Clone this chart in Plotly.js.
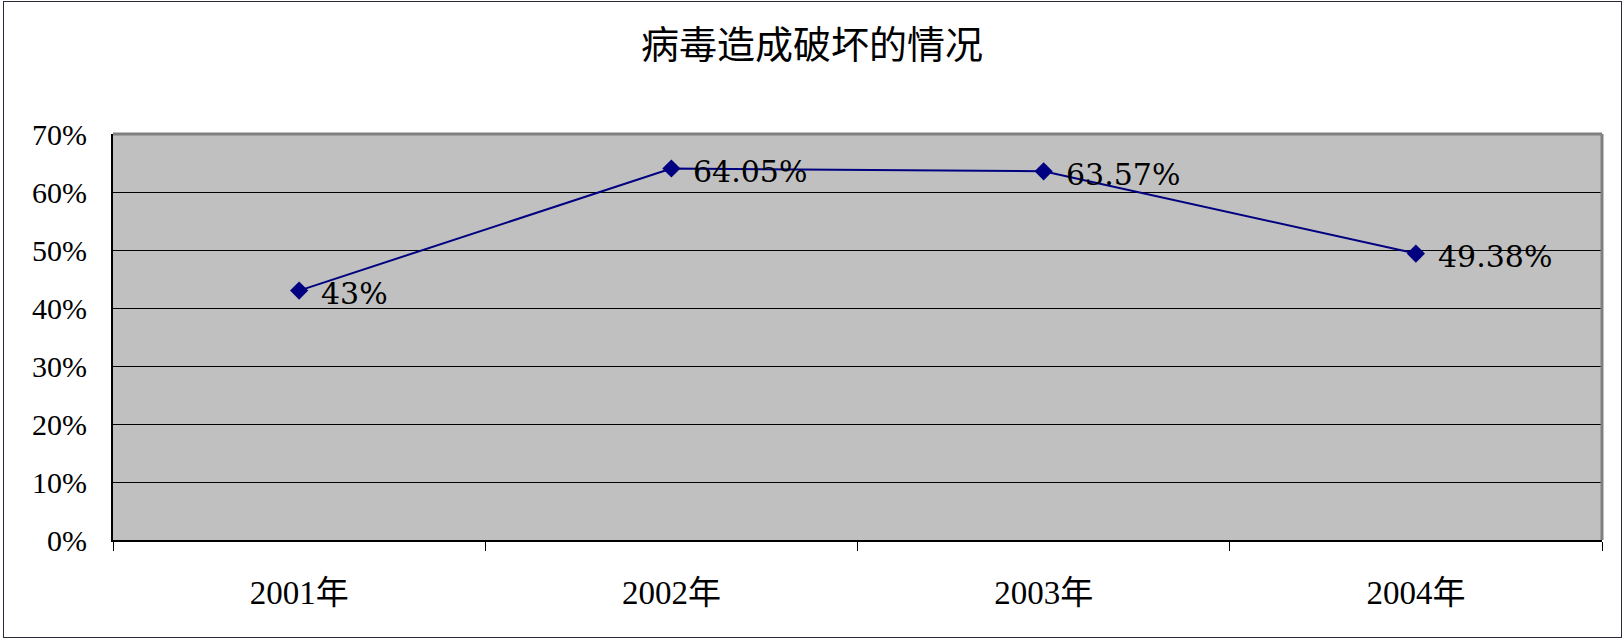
<!DOCTYPE html>
<html><head><meta charset="utf-8">
<script src="https://cdn.plot.ly/plotly-3.0.1.min.js"></script>
<style>
html,body{margin:0;padding:0;background:#fff;}
#wrap{position:relative;width:1624px;height:640px;}
#chart{position:absolute;left:0;top:0;width:1624px;height:640px;}
#frame{position:absolute;left:3px;top:1px;width:1617px;height:635px;border:1.5px solid #2a2a3a;pointer-events:none;}
</style></head>
<body><div id="wrap"><div id="chart"></div><div id="frame"></div></div>
<script>
const categories = ['2001年','2002年','2003年','2004年'];
const values = [43, 64.05, 63.57, 49.38];
const labels = ['43%','64.05%','63.57%','49.38%'];
const yTicks = [0,10,20,30,40,50,60,70];
const chartTitle = '病毒造成破坏的情况';

const serif = 'Liberation Serif, "Noto Sans CJK SC", serif';
const trace = {
  x: categories, y: values, type:'scatter', mode:'lines+markers',
  line:{color:'#000080', width:2},
  marker:{symbol:'diamond', size:14, color:'#000080'},
  cliponaxis:false, hoverinfo:'none'
};
const annotations = categories.map((c,i)=>({
  x:c, y:values[i], xref:'x', yref:'y', text:labels[i], showarrow:false,
  xanchor:'left', yanchor:'middle', xshift:20, yshift:-3,
  font:{family:'DejaVu Serif, serif', size:30, color:'#000'}
}));
const layout = {
  width:1624, height:640,
  margin:{l:113, r:22, t:134, b:100},
  paper_bgcolor:'#ffffff', plot_bgcolor:'#c0c0c0',
  showlegend:false,
  annotations: annotations,
  title:{text:chartTitle, x:0.5, xanchor:'center', y:0.93, yanchor:'middle', yref:'container',
         font:{family:'"Noto Sans CJK SC", serif', size:38, color:'#000'}},
  xaxis:{type:'category', range:[-0.5,3.5], tickson:'boundaries', ticks:'outside', ticklen:9, tickcolor:'#000',
         showline:true, linecolor:'#000', linewidth:2, showgrid:false, zeroline:false,
         ticklabelstandoff:22, tickfont:{family:serif, size:33, color:'#000'}, fixedrange:true},
  yaxis:{range:[0,70], tickvals:yTicks, ticktext:yTicks.map(v=>v+'%'), ticks:'inside', ticklen:9, tickcolor:'#000',
         showline:true, linecolor:'#000', linewidth:2, showgrid:true, gridcolor:'#000', gridwidth:1,
         zeroline:false, ticklabelstandoff:18, tickfont:{family:serif, size:30, color:'#000'}, fixedrange:true},
  shapes:[
    {type:'line', xref:'paper', yref:'paper', x0:0, x1:1, y0:1, y1:1, line:{color:'#808080', width:3}},
    {type:'line', xref:'paper', yref:'paper', x0:1, x1:1, y0:0, y1:1, line:{color:'#808080', width:3}}
  ]
};
Plotly.newPlot('chart', [trace], layout, {staticPlot:true});
</script></body></html>
